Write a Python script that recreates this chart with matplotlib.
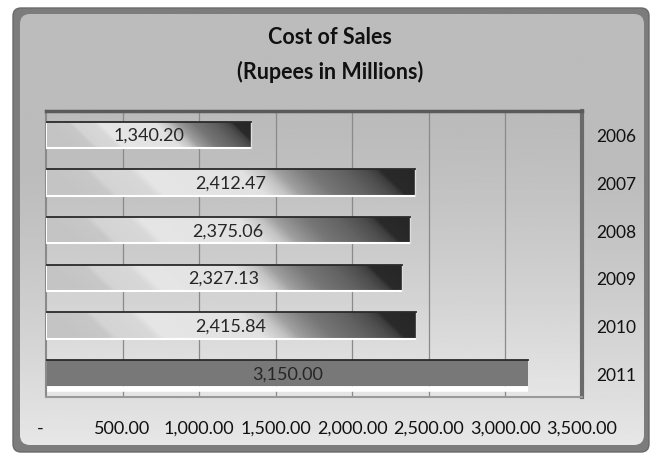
import numpy as np
import matplotlib
matplotlib.use('Agg')
import matplotlib.pyplot as plt
from matplotlib.patches import FancyBboxPatch
from matplotlib.colors import LinearSegmentedColormap
from matplotlib.transforms import ScaledTranslation

plt.rcParams['font.family'] = ['Lato', 'DejaVu Sans']

# 数据
years = ['2006', '2007', '2008', '2009', '2010', '2011']
cost = [1340.20, 2412.47, 2375.06, 2327.13, 2415.84, 3150.00]
ticks = [0, 500, 1000, 1500, 2000, 2500, 3000, 3500]
tick_labels = ['-', '500.00', '1,000.00', '1,500.00', '2,000.00', '2,500.00', '3,000.00', '3,500.00']

W, H = 660, 456
fig = plt.figure(figsize=(W / 100, H / 100), dpi=100)
fig.patch.set_facecolor('white')

# 背景面板
bg = fig.add_axes([0, 0, 1, 1])
frame = FancyBboxPatch((13, 9), 636, 444, boxstyle='round,pad=0,rounding_size=8',
                       facecolor='#7c7c7c', edgecolor='#6a6a6a', lw=1, zorder=1)
bg.add_patch(frame)
panel = FancyBboxPatch((20, 15), 624, 431, boxstyle='round,pad=0,rounding_size=10',
                       facecolor='none', edgecolor='none', zorder=1)
bg.add_patch(panel)
yy = np.linspace(0, 1, 200)[:, None]
shade = 0.735 + 0.17 * np.clip((yy - 0.35) / 0.65, 0, 1) ** 1.2
img = bg.imshow(np.repeat(shade, 2, axis=1), cmap='gray', vmin=0, vmax=1,
                extent=(20, 644, 446, 15), aspect='auto', interpolation='bilinear', zorder=2)
img.set_clip_path(panel)
bg.set_xlim(0, W)
bg.set_ylim(H, 0)
bg.axis('off')

bg.text(330, 38, 'Cost of Sales', ha='center', va='center', fontsize=15.5, fontweight='bold', color='#111111', zorder=3)
bg.text(330, 72, '(Rupees in Millions)', ha='center', va='center', fontsize=15.5, fontweight='bold', color='#111111', zorder=3)

# 绘图区
x0, x1, y0, y1 = 46, 582, 112, 398
ax = fig.add_axes([x0 / W, 1 - y1 / H, (x1 - x0) / W, (y1 - y0) / H])
ax.set_facecolor('none')

ax.imshow(np.repeat(0.73 + 0.17 * yy ** 1.3, 2, axis=1), cmap='gray', vmin=0, vmax=1,
          extent=(0, 3500, len(years) - 0.5, -0.5), aspect='auto', zorder=0)
for xv in ticks[1:]:
    ax.axvline(xv, color='#8a8a8a', lw=0.9, zorder=1)

bar_cmap = LinearSegmentedColormap.from_list('bar', [
    (0.00, '#c4c4c4'), (0.10, '#c8c8c8'), (0.12, '#d4d4d4'), (0.22, '#d8d8d8'),
    (0.25, '#e6e6e6'), (0.52, '#e2e2e2'), (0.58, '#c4c4c4'), (0.62, '#a0a0a0'),
    (0.66, '#8c8c8c'), (0.71, '#767676'), (0.80, '#626262'), (0.86, '#4e4e4e'),
    (0.89, '#3e3e3e'), (0.905, '#2a2a2a'), (1.00, '#262626')])

bh = 0.55
px_per_val = (x1 - x0) / 3500
for i, v in enumerate(cost):
    top, bot = i - bh / 2, i + bh / 2
    if i == len(years) - 1:
        ax.barh(i, v, height=bh, color='#787878', zorder=2)
        ax.plot([0, v], [bot + 0.06, bot + 0.06], color='white', lw=4, solid_capstyle='butt', zorder=2)
    else:
        rect = ax.barh(i, v, height=bh, color='none', zorder=2)[0]
        L = v * px_per_val
        u = np.linspace(0, 1, 300)[None, :]
        w = np.linspace(0, 1, 40)[:, None]
        t = np.clip(u - w * 27 / L, 0, 1)
        bi = ax.imshow(t, cmap=bar_cmap, vmin=0, vmax=1, extent=(0, v, bot, top),
                       aspect='auto', interpolation='bilinear', zorder=2)
        bi.set_clip_path(rect)
        ax.plot([0, v], [bot, bot], color='white', lw=1.5, zorder=3)
        ax.plot([0, 0], [top, bot], color='white', lw=1.5, zorder=3)
        ax.plot([v, v], [top, bot], color='#dddddd', lw=1, zorder=3)
    ax.plot([0, v], [top, top], color='#2a2a2a', lw=1.3, zorder=3)
    ax.text(v / 2, i, f'{v:,.2f}', ha='center', va='center', fontsize=13, color='#262626', zorder=4)

ax.set_xlim(0, 3500)
ax.set_ylim(len(years) - 0.5, -0.5)
ax.set_yticks(range(len(years)))
ax.set_yticklabels(years)
ax.set_xticks(ticks)
ax.set_xticklabels(tick_labels)
ax.tick_params(axis='y', left=False, right=False, labelleft=False, labelright=True, pad=7, labelsize=12.5, labelcolor='#111111')
ax.tick_params(axis='x', bottom=False, pad=13, labelsize=13, labelcolor='#111111')
lab0 = ax.get_xticklabels()[0]
lab0.set_transform(lab0.get_transform() + ScaledTranslation(-6 / 100, 0, fig.dpi_scale_trans))

ax.spines['top'].set_color('#5a5a5a')
ax.spines['top'].set_linewidth(2.5)
ax.spines['right'].set_color('#6a6a6a')
ax.spines['right'].set_linewidth(3)
ax.spines['left'].set_color('#8a8a8a')
ax.spines['left'].set_linewidth(1.5)
ax.spines['bottom'].set_color('#9a9a9a')
ax.spines['bottom'].set_linewidth(1.5)

fig.savefig('out.png', dpi=100, facecolor='white')
